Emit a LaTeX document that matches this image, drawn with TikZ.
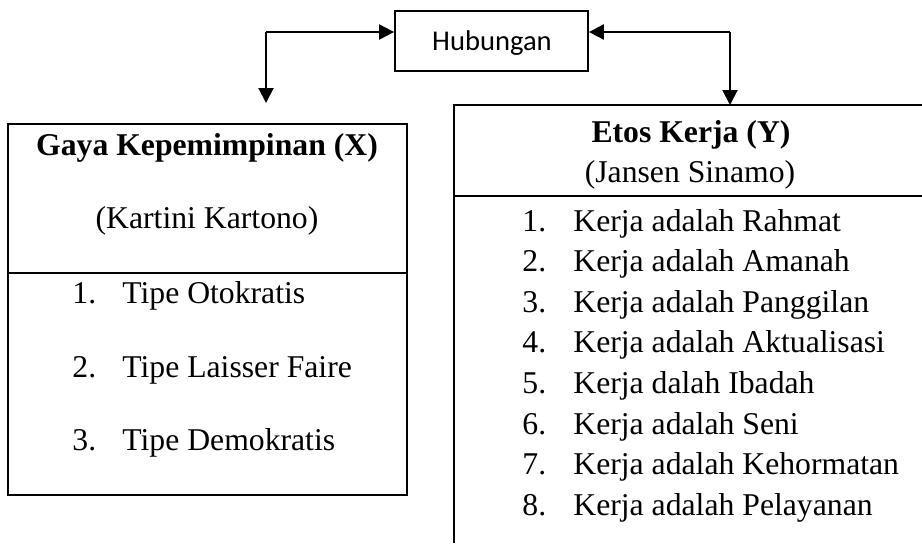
\documentclass[tikz,border=0pt]{standalone}
\usepackage{fontspec}
\setmainfont{Liberation Serif}
\newfontfamily\calfont{Carlito}
\usetikzlibrary{arrows.meta}
\begin{document}
\begin{tikzpicture}[x=0.5pt,y=-0.5pt,
  edge/.style={line width=1pt},
  arr/.style={line width=1pt,-{Triangle[length=7.5pt,width=7.5pt]}},
  txt/.style={font=\fontsize{15.85}{19}\selectfont, anchor=base, inner sep=0pt},
  btxt/.style={txt, font=\fontsize{15.85}{19}\selectfont\bfseries},
  num/.style={txt, anchor=base west},
  item/.style={txt, anchor=base west},
  hubbox/.style={draw, line width=0.9pt, minimum width=96.5pt, minimum height=30pt, inner sep=0pt, font=\calfont\fontsize{14.3}{17}\selectfont}]
\useasboundingbox (0,0) rectangle (922,543);

% Hubungan
\node[hubbox] (hub) at (491.5,41) {};
\node[txt, font=\calfont\fontsize{14.3}{17}\selectfont] (hubt) at (492,50) {Hubungan};

% Left box
\node[draw, line width=1pt, minimum width=199.5pt, minimum height=185.5pt, inner sep=0pt] (lbox) at (207.5,309.5) {};
\coordinate (ldivl) at (8,273);
\coordinate (ldivr) at (407,273);
\draw[edge] (ldivl) -- (ldivr);
\node[btxt] (lt1) at (207,155) {Gaya Kepemimpinan (X)};
\node[txt] (lt2) at (207,228) {(Kartini Kartono)};
\node[num] (ln1) at (72,303) {1.};
\node[item] (li1) at (122,303) {Tipe Otokratis};
\node[num] (ln2) at (72,377) {2.};
\node[item] (li2) at (122,377) {Tipe Laisser Faire};
\node[num] (ln3) at (72,450) {3.};
\node[item] (li3) at (122,450) {Tipe Demokratis};

% Right box (open to right and bottom)
\coordinate (rtl) at (454,105);
\coordinate (rtr) at (922,105);
\coordinate (rbl) at (454,543);
\coordinate (rdl) at (454,196);
\coordinate (rdr) at (922,196);
\draw[edge] (rtr) -- (rtl) -- (rbl);
\draw[edge] (rdl) -- (rdr);
\node[btxt] (rt1) at (691,142) {Etos Kerja (Y)};
\node[txt] (rt2) at (690,182) {(Jansen Sinamo)};
\foreach \i/\t [evaluate=\i as \yy using 231+(\i-1)*40.6] in
  {1/Kerja adalah Rahmat, 2/Kerja adalah Amanah, 3/Kerja adalah Panggilan,
   4/Kerja adalah Aktualisasi, 5/Kerja dalah Ibadah, 6/Kerja adalah Seni,
   7/Kerja adalah Kehormatan, 8/Kerja adalah Pelayanan}{
  \node[num] (rn\i) at (522,\yy) {\i.};
  \node[item] (ri\i) at (573,\yy) {\t};
}

% Connectors
\coordinate (lc) at (266,32);
\coordinate (ltip) at (266,103);
\coordinate (rc) at (730,32);
\coordinate (rtip) at (730,105);
\draw[arr] (lc) -- (lc -| hub.west);
\draw[arr] (lc) -- (ltip);
\draw[arr] (rc) -- (rc -| hub.east);
\draw[arr] (rc) -- (rtip);
\end{tikzpicture}
\end{document}
